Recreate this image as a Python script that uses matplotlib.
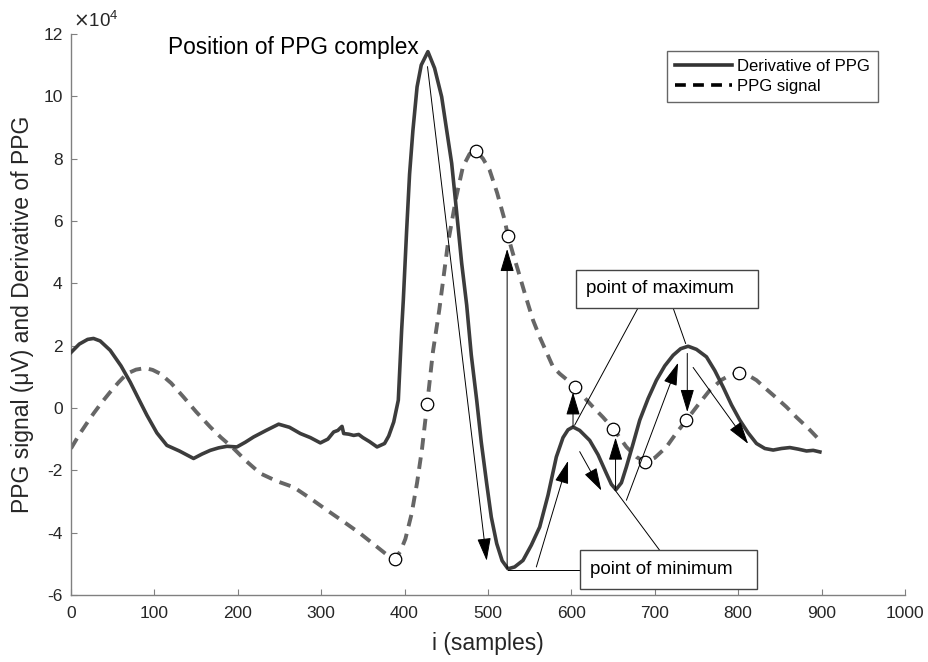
import matplotlib.pyplot as plt
from matplotlib.lines import Line2D
from matplotlib.patches import Rectangle
from matplotlib.ticker import FuncFormatter

plt.rcParams['font.family'] = ['Liberation Sans', 'DejaVu Sans']
plt.rcParams['axes.unicode_minus'] = False

SCALE = 1e4

# Derivative of PPG (values in units of 1e4)
deriv_x = [0, 10, 20, 27, 35, 47, 60, 71, 80, 91, 103, 115, 130, 147, 157, 167, 177,
           187, 199, 209, 219, 234, 249, 262, 275, 287, 299, 308, 315, 320, 325, 327,
           333, 339, 345, 350, 358, 367, 376, 381, 387, 392.5, 396.5, 398.5, 402.5,
           406, 410, 415, 420, 428, 436, 444.5, 450, 456.5, 462, 468.5, 474.5, 480,
           486.5, 492, 498.5, 504, 510.5, 517, 524, 532, 542, 552, 562, 572, 582, 590,
           596, 602, 610, 622, 632, 642, 648, 653.5, 660, 666, 674, 682, 692, 702, 712,
           722, 731, 740, 750, 762, 772, 782, 792, 802, 812, 822, 832, 842, 852, 862,
           872, 882, 890, 898]
deriv_y = [1.78, 2.05, 2.2, 2.23, 2.15, 1.85, 1.35, 0.83, 0.35, -0.23, -0.8, -1.2, -1.38,
           -1.62, -1.48, -1.36, -1.28, -1.23, -1.25, -1.1, -0.93, -0.72, -0.52, -0.62,
           -0.82, -0.95, -1.12, -1.0, -0.77, -0.72, -0.59, -0.82, -0.84, -0.88, -0.85,
           -0.95, -1.08, -1.25, -1.14, -0.9, -0.45, 0.25, 2.5, 3.46, 5.7, 7.5, 8.9,
           10.3, 11.0, 11.43, 10.9, 9.98, 9.0, 7.85, 6.4, 4.64, 3.3, 1.7, 0.25, -1.1,
           -2.43, -3.5, -4.35, -4.9, -5.16, -5.1, -4.89, -4.4, -3.82, -2.8, -1.57,
           -0.95, -0.7, -0.61, -0.72, -1.04, -1.5, -2.1, -2.45, -2.62, -2.4, -1.89,
           -1.15, -0.39, 0.3, 0.89, 1.35, 1.69, 1.9, 1.98, 1.88, 1.64, 1.2, 0.67, 0.1,
           -0.39, -0.8, -1.14, -1.3, -1.35, -1.3, -1.27, -1.32, -1.38, -1.36, -1.41]

# PPG signal (values in units of 1e4)
ppg_x = [0, 10, 20, 27, 37, 47, 57, 67, 78, 89, 98, 107, 120, 135, 150, 167, 180, 195,
         210, 227, 247, 267, 287, 307, 327, 347, 362, 377, 388.5, 395, 401, 408.5, 415,
         421, 427, 434, 441.6, 452, 462, 470, 478, 486, 494, 502, 511, 520, 524, 530,
         536, 545, 554, 562, 570, 578, 586, 595, 604, 615, 626, 638, 650, 658, 666, 678,
         688, 700, 714, 726, 738, 752, 766, 780, 790, 801, 812, 822, 834, 846, 858, 870,
         884, 898]
ppg_y = [-1.3, -0.85, -0.45, -0.18, 0.18, 0.51, 0.82, 1.1, 1.23, 1.28, 1.22, 1.1, 0.8,
         0.35, -0.12, -0.61, -0.95, -1.3, -1.7, -2.1, -2.35, -2.54, -2.9, -3.28, -3.65,
         -4.03, -4.35, -4.67, -4.84, -4.6, -4.2, -3.39, -2.4, -1.3, 0.1, 1.8, 3.14, 5.28,
         6.77, 7.74, 8.15, 8.24, 8.0, 7.63, 6.9, 6.03, 5.51, 4.95, 4.42, 3.6, 2.82, 2.28,
         1.8, 1.32, 1.1, 0.9, 0.67, 0.35, 0.03, -0.3, -0.66, -0.95, -1.25, -1.57, -1.73,
         -1.6, -1.25, -0.8, -0.39, 0.1, 0.57, 0.9, 1.05, 1.12, 1.05, 0.89, 0.6, 0.32,
         0.03, -0.3, -0.65, -1.04]

# marked points on the PPG signal
mark_x = [388.5, 426.5, 485.6, 524, 604, 650, 688, 738, 801]
mark_y = [-4.84, 0.14, 8.24, 5.51, 0.67, -0.66, -1.73, -0.39, 1.12]

# arrows: (start x, start y, end x, end y)
arrows = [(427.5, 10.95, 498.5, -4.9),
          (523, -5.15, 523, 5.1),
          (558, -5.1, 596, -1.7),
          (602, -0.6, 602, 0.5),
          (610, -1.4, 636, -2.65),
          (653, -2.6, 653, -0.95),
          (666, -2.96, 728, 1.45),
          (739, 1.75, 739, -0.13),
          (746, 1.3, 812, -1.15)]

fig = plt.figure(figsize=(9.29, 6.62), dpi=100)
ax = fig.add_axes([0.0764, 0.1012, 0.8977, 0.8476])

ax.plot(deriv_x, [v * SCALE for v in deriv_y], color='#3c3c3c', lw=2.6, zorder=3)
ax.plot(ppg_x, [v * SCALE for v in ppg_y], color='#666666', lw=2.8,
        dashes=(3, 2), zorder=2)
ax.plot(mark_x, [v * SCALE for v in mark_y], 'o', ms=9, mfc='white', mec='black',
        mew=0.9, zorder=4)

for x0, y0, x1, y1 in arrows:
    ax.annotate('', xy=(x1, y1 * SCALE), xytext=(x0, y0 * SCALE),
                arrowprops=dict(arrowstyle='-|>,head_length=1.1,head_width=0.33',
                                mutation_scale=13, color='black', lw=0.7,
                                shrinkA=0, shrinkB=0), zorder=5)

# callout lines
ax.plot([680, 604], [3.21 * SCALE, -0.55 * SCALE], color='black', lw=0.7, zorder=5)
ax.plot([722, 737], [3.21 * SCALE, 2.07 * SCALE], color='black', lw=0.7, zorder=5)
ax.plot([610.3, 524], [-5.19 * SCALE, -5.19 * SCALE], color='black', lw=0.7, zorder=5)
ax.plot([706, 652], [-4.57 * SCALE, -2.62 * SCALE], color='black', lw=0.7, zorder=5)

# text boxes
ax.add_patch(Rectangle((605.5, 3.21 * SCALE), 218.2, 1.23 * SCALE, fc='white',
                       ec='#444444', lw=1.0, zorder=6))
ax.text(617.5, 3.83 * SCALE, 'point of maximum', fontsize=13.5, va='center',
        ha='left', zorder=7)
ax.add_patch(Rectangle((610.3, -5.8 * SCALE), 211.9, 1.23 * SCALE, fc='white',
                       ec='#444444', lw=1.0, zorder=6))
ax.text(622.3, -5.19 * SCALE, 'point of minimum', fontsize=13.5, va='center',
        ha='left', zorder=7)

ax.text(116, 11.55 * SCALE, 'Position of PPG complex', fontsize=16.3, va='center',
        ha='left')

ax.set_xlim(0, 1000)
ax.set_ylim(-6 * SCALE, 12 * SCALE)
ax.set_xticks(range(0, 1001, 100))
ax.set_yticks([v * SCALE for v in range(-6, 13, 2)])
ax.yaxis.set_major_formatter(FuncFormatter(lambda v, p: '%d' % round(v / SCALE)))
fig.text(0.079, 0.968, r'$\times\mathdefault{10^{4}}$', fontsize=13.5,
         color='#262626', ha='left', va='center')

for s in ['top', 'right']:
    ax.spines[s].set_visible(False)
for s in ['left', 'bottom']:
    ax.spines[s].set_color('#808080')
    ax.spines[s].set_linewidth(1.0)
ax.tick_params(direction='in', length=4, color='#808080', labelsize=12.5,
               labelcolor='#262626')
ax.tick_params(axis='x', pad=8)
ax.tick_params(axis='y', pad=6)

ax.set_xlabel('i (samples)', fontsize=16.5, color='#262626', labelpad=8)
ax.set_ylabel('PPG signal (\u03bcV) and Derivative of PPG', fontsize=16.5,
              color='#262626', labelpad=7)

handles = [Line2D([], [], color='#333333', lw=2.6),
           Line2D([], [], color='black', lw=2.6, dashes=(3, 2))]
ax.legend(handles, ['Derivative of PPG', 'PPG signal'], loc='upper right',
          bbox_to_anchor=(0.978, 0.985), fontsize=12, frameon=True,
          fancybox=False, edgecolor='#666666', framealpha=1, handlelength=3.4,
          borderpad=0.5, labelspacing=0.3, handletextpad=0.3)

fig.savefig('out.png', dpi=100)
